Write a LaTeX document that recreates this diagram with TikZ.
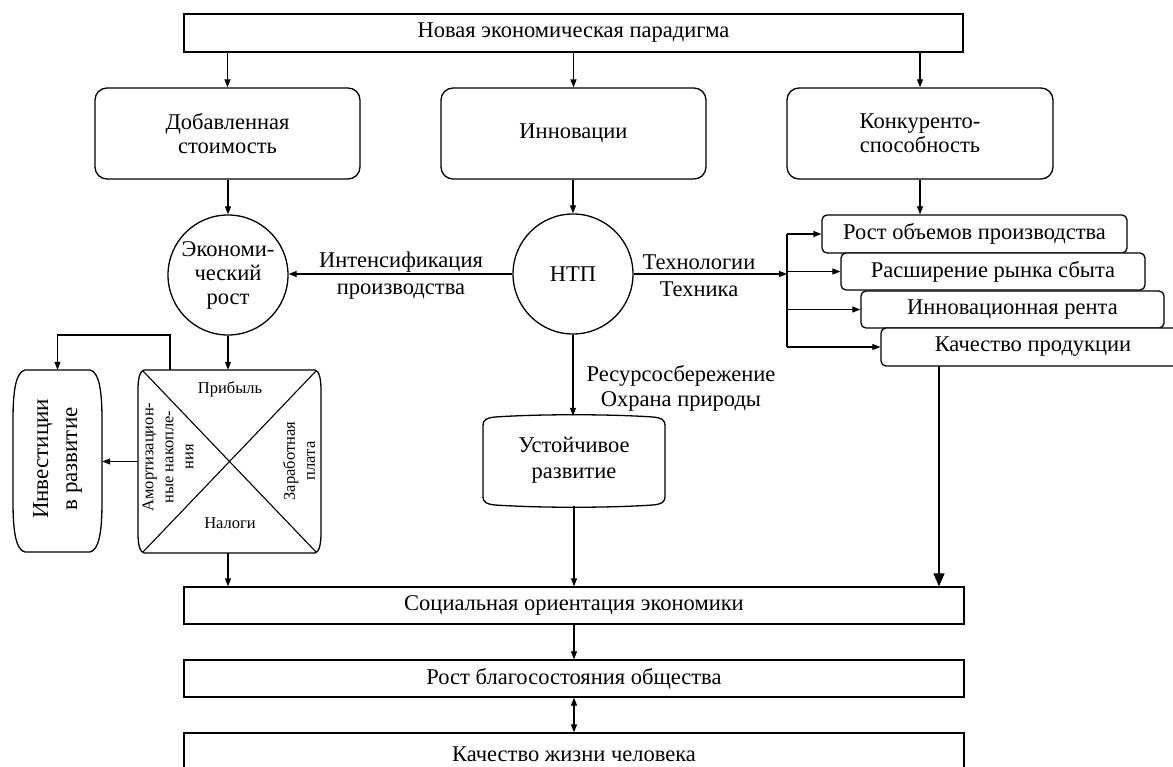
\documentclass[tikz,border=0pt]{standalone}
\usepackage{fontspec}
\setmainfont{Liberation Serif}
\usetikzlibrary{arrows.meta}
\newcommand\fa{\fontsize{22.5}{24}\selectfont}
\newcommand\fb{\fontsize{16.5}{20}\selectfont}
\newcommand\fc{\fontsize{23}{29}\selectfont}
\begin{document}
\begin{tikzpicture}[x=1pt,y=-1pt,
  lw/.style={line width=1.3pt},
  box/.style={draw,lw,inner sep=0pt,align=center,font=\fa},
  rbox/.style={box,rounded corners=12pt},
  sbox/.style={box,rounded corners=5pt,fill=white},
  circ/.style={draw,lw,circle,inner sep=0pt,minimum size=120pt,align=center,font=\fa},
  ghost/.style={inner sep=0pt,align=center},
  lab/.style={inner sep=0pt,align=center,font=\fa},
  arr/.style={line width=1.2pt,-{Triangle[length=8pt,width=6pt]}},
  darr/.style={line width=1.2pt,{Triangle[length=8pt,width=6pt]}-{Triangle[length=8pt,width=6pt]}},
  bigarr/.style={line width=1.2pt,-{Triangle[length=13pt,width=11pt]}}]
\useasboundingbox (0,0) rectangle (1173,767);
\clip (0,0) rectangle (1173,767);

% top
\node[box,minimum width=779pt,minimum height=38pt] (top) at (573.5,33) {Новая экономическая парадигма};
\node[rbox,minimum width=265pt,minimum height=91pt] (dob) at (227.5,133.5) {Добавленная\\стоимость};
\node[rbox,minimum width=265pt,minimum height=91pt] (inn) at (573.5,133.5) {Инновации};
\node[rbox,minimum width=266pt,minimum height=91pt] (kon) at (920,133.5) {Конкуренто-\\способность};

% circles
\node[circ] (eco) at (228,275) {Экономи-\\ческий\\рост};
\node[circ] (ntp) at (573,274) {НТП};

% stacked boxes
\node[sbox,minimum width=305pt,minimum height=38pt] (b1) at (974.5,234) {Рост объемов производства};
\node[sbox,minimum width=304pt,minimum height=37pt] (b2) at (993,271.5) {Расширение рынка сбыта};
\node[sbox,minimum width=303pt,minimum height=37pt] (b3) at (1012.5,309.5) {Инновационная рента};
\node[sbox,minimum width=304pt,minimum height=38pt] (b4) at (1033,347) {Качество продукции};

% square with diagonals
\node[ghost,minimum width=183pt,minimum height=183pt] (sq) at (229.5,461.5) {};
\draw[lw] (144,370) -- (315,370) .. controls (319,371) and (321,378) .. (321,390) -- (321,533)
  .. controls (321,545) and (319,552) .. (315,553) -- (144,553)
  .. controls (140,552) and (138,545) .. (138,533) -- (138,390)
  .. controls (138,378) and (140,371) .. (144,370) -- cycle;
\draw[line width=1.1pt] (143,371) -- (316,552);
\draw[line width=1.1pt] (316,371) -- (143,552);
\node[lab,font=\fb] (prib) at (230,389) {Прибыль};
\node[lab,font=\fb] (nal) at (230,523) {Налоги};
\node[lab,font=\fb,rotate=90] (amo) at (168,457) {Амортизацион-\\ные накопле-\\ния};
\node[lab,font=\fb,rotate=90] (zar) at (299,461) {Заработная\\плата};

% investments barrel
\node[ghost,minimum width=89pt,minimum height=182pt] (inv) at (57.5,461) {};
\draw[lw] (25,370) -- (90,370) .. controls (99,372) and (102,390) .. (102,420) -- (102,502)
  .. controls (102,532) and (99,550) .. (90,552) -- (25,552)
  .. controls (16,550) and (13,532) .. (13,502) -- (13,420)
  .. controls (13,390) and (16,372) .. (25,370) -- cycle;
\node[lab,font=\fc,rotate=90] (invt) at (57.5,459) {Инвестиции\\в развитие};

% sustainable development
\node[ghost,minimum width=182pt,minimum height=90pt] (ust) at (574,461) {};
\draw[lw] (483,426) .. controls (483,419) and (487,418) .. (495,417) .. controls (540,414) and (608,414) .. (653,417)
  .. controls (661,418) and (665,419) .. (665,426) -- (665,496)
  .. controls (665,503) and (661,504) .. (653,505) .. controls (608,508) and (540,508) .. (495,505)
  .. controls (487,504) and (483,503) .. (483,496) -- cycle;
\node[lab,font=\fontsize{22.5}{26}\selectfont] (ustt) at (574,460) {Устойчивое\\развитие};

% bottom boxes
\node[box,minimum width=780pt,minimum height=37pt] (soc) at (574,605.5) {Социальная ориентация экономики};
\node[box,minimum width=780pt,minimum height=37pt] (rost) at (574,678.5) {Рост благосостояния общества};
\node[box,minimum width=780pt,minimum height=42pt,text depth=0pt] (kach) at (574,754) {Качество жизни человека};

% labels
\node[lab,font=\fontsize{22.5}{27}\selectfont] (lint) at (401,276) {Интенсификация\\производства};
\node[lab,font=\fontsize{22.5}{27}\selectfont] (ltech) at (699,276) {Технологии\\Техника};
\node[lab,font=\fontsize{22.5}{25}\selectfont] (lres) at (681,388) {Ресурсосбережение\\Охрана природы};

% connectors
\draw[arr] (top.south -| dob) -- (dob.north);
\draw[arr] (top.south -| inn) -- (inn.north);
\draw[arr] (top.south -| kon) -- (kon.north);
\draw[arr] (dob.south -| eco) -- (eco.north);
\draw[arr] (inn.south -| ntp) -- (ntp.north);
\draw[arr] (kon.south) -- (kon.south |- b1.north);
\draw[arr] (ntp.west) -- (ntp.west -| eco.east);
\coordinate (br) at (787,274);
\draw[arr] (ntp.east) -- (br);
\draw[line width=1.2pt] (br |- b1) -- (br |- b4);
\draw[arr] (br |- b1) -- (b1.west);
\draw[arr] (br |- b2) -- (b2.west);
\draw[arr] (br |- b3) -- (b3.west);
\draw[arr] (br |- b4) -- (b4.west);
\draw[arr] (eco.south) -- (eco.south |- sq.north);
\coordinate (sqt) at (170,370);
\draw[arr] (sqt) -- ++(0,-35) -| (inv.north);
\draw[arr] (sq.west) -- (sq.west -| inv.east);
\draw[arr] (ntp.south) -- (ntp.south |- ust.north);
\draw[arr] (ust.south) -- (ust.south |- soc.north);
\coordinate (sqb) at (228,553);
\draw[arr] (sqb) -- (sqb |- soc.north);
\coordinate (qb) at (939,366);
\draw[bigarr] (qb) -- (qb |- soc.north);
\draw[arr] (soc.south -| rost) -- (rost.north);
\draw[darr] (rost.south -| kach) -- (kach.north);
\end{tikzpicture}
\end{document}
